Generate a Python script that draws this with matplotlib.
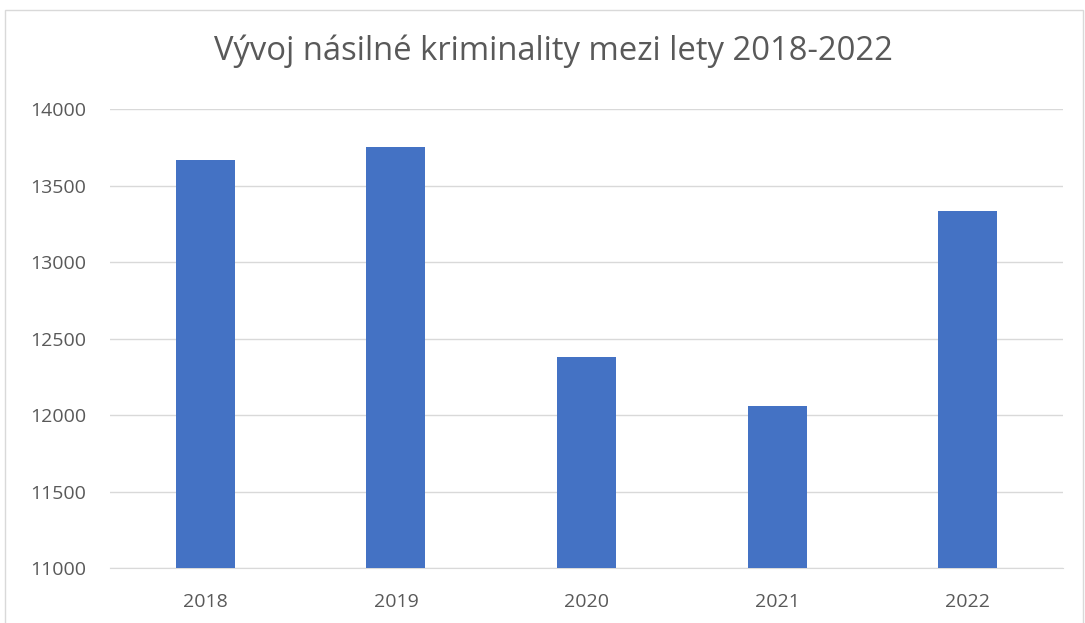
import matplotlib
matplotlib.use("Agg")
from matplotlib import pyplot as plt
from matplotlib.patches import Rectangle

years = ["2018", "2019", "2020", "2021", "2022"]
crimes = [13670, 13750, 12380, 12063, 13333]
yticks = [11000, 11500, 12000, 12500, 13000, 13500, 14000]

plt.rcParams['font.family'] = ['Open Sans', 'DejaVu Sans']

fig = plt.figure(figsize=(10.85, 6.23), dpi=100)
ax = fig.add_axes([0.1014, 0.0875, 0.8783, 0.7375])

# light chart border like the office export
fig.patches.append(Rectangle((0.0045, -0.01), 0.994, 0.994, transform=fig.transFigure,
                             fill=False, edgecolor='#d9d9d9', linewidth=1))

x = range(len(years))
ax.bar(x, crimes, width=0.31, color='#4472c4', zorder=3)
ax.set_xlim(-0.5, len(years) - 0.5)
ax.set_ylim(11000, 14000)
ax.set_yticks(yticks)
ax.set_xticks(list(x))
ax.set_xticklabels(years)
ax.grid(axis='y', color='#d9d9d9', linewidth=1, zorder=0)
for s in ['top', 'right', 'left']:
    ax.spines[s].set_visible(False)
ax.spines['bottom'].set_color('#d9d9d9')
ax.tick_params(axis='both', length=0, labelsize=14, colors='#595959')
ax.tick_params(axis='x', pad=18)
ax.tick_params(axis='y', pad=17)

fig.text(0.5097, 0.917, "Vývoj násilné kriminality mezi lety 2018-2022", ha='center', va='center',
         fontsize=23.6, color='#595959')

plt.savefig('out.png', dpi=100)
